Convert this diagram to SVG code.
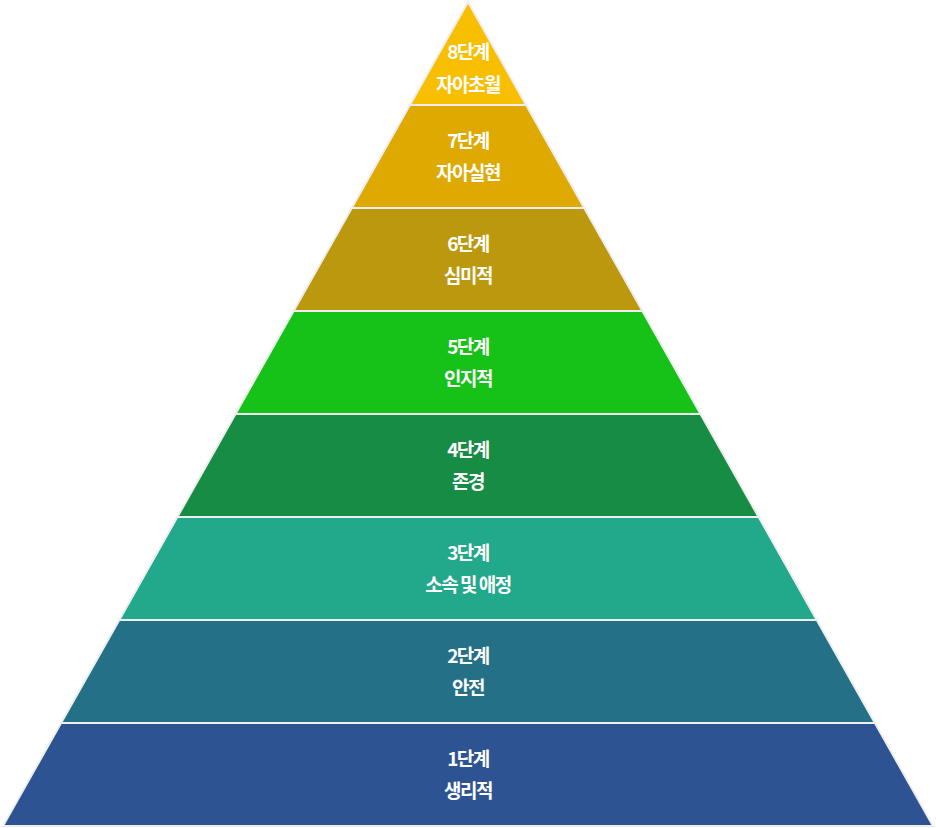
<svg xmlns="http://www.w3.org/2000/svg" width="936" height="828" viewBox="0 0 936 828">
<style>
.lv{stroke:#eeeeee;stroke-width:2;stroke-linejoin:miter}
.t{font-family:"Noto Sans CJK KR","Noto Sans",sans-serif;font-size:19px;font-weight:700;fill:#ffffff;text-anchor:middle;letter-spacing:-1.5px}
</style>
<rect width="936" height="828" fill="#ffffff"/>
<g id="level8"><polygon class="lv" fill="#F8BE00" points="468,2 526.1,105 409.9,105"/><text class="t" x="468" y="59">8단계</text><text class="t" x="468" y="92">자아초월</text></g>
<g id="level7"><polygon class="lv" fill="#DEA900" points="409.9,105 526.1,105 584.2,208 351.8,208"/><text class="t" x="468" y="148">7단계</text><text class="t" x="468" y="180">자아실현</text></g>
<g id="level6"><polygon class="lv" fill="#BC980E" points="351.8,208 584.2,208 642.4,311 293.6,311"/><text class="t" x="468" y="251">6단계</text><text class="t" x="468" y="283">심미적</text></g>
<g id="level5"><polygon class="lv" fill="#16C118" points="293.6,311 642.4,311 700.5,414 235.5,414"/><text class="t" x="468" y="354">5단계</text><text class="t" x="468" y="386">인지적</text></g>
<g id="level4"><polygon class="lv" fill="#178C45" points="235.5,414 700.5,414 758.6,517 177.4,517"/><text class="t" x="468" y="457">4단계</text><text class="t" x="468" y="489">존경</text></g>
<g id="level3"><polygon class="lv" fill="#22A88A" points="177.4,517 758.6,517 816.7,620 119.3,620"/><text class="t" x="468" y="560">3단계</text><text class="t" x="468" y="592">소속 및 애정</text></g>
<g id="level2"><polygon class="lv" fill="#237087" points="119.3,620 816.7,620 874.9,723 61.1,723"/><text class="t" x="468" y="663">2단계</text><text class="t" x="468" y="695">안전</text></g>
<g id="level1"><polygon class="lv" fill="#2D5393" points="61.1,723 874.9,723 933,826 3,826"/><text class="t" x="468" y="766">1단계</text><text class="t" x="468" y="798">생리적</text></g>
<g id="connectors"/>
</svg>
